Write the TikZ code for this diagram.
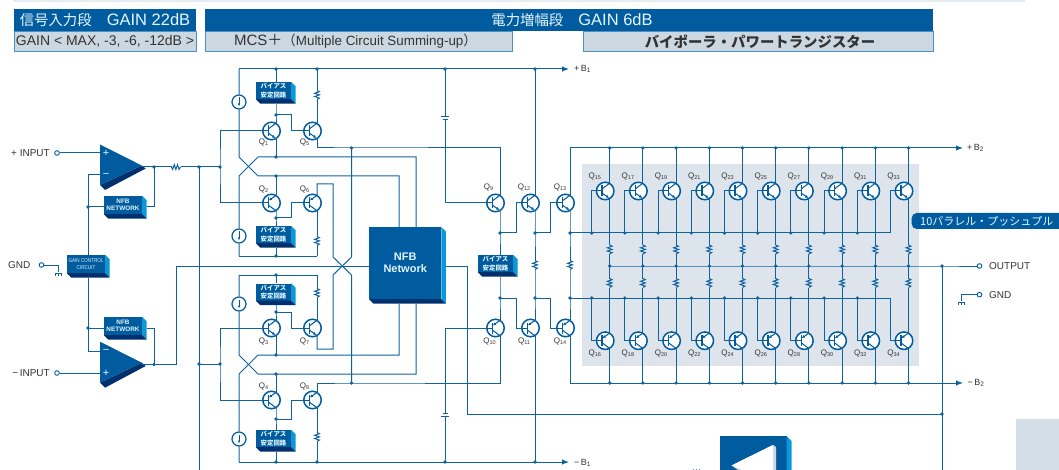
\documentclass[tikz,border=0pt]{standalone}
\usepackage{fontspec}
\setmainfont{Liberation Sans}
\newfontfamily\cjk{Noto Sans CJK JP}
\usetikzlibrary{calc,arrows.meta}
\definecolor{mainblue}{HTML}{005B9F}
\definecolor{wireblue}{HTML}{10629F}
\definecolor{sideblue}{HTML}{0B98D8}
\definecolor{footblue}{HTML}{00306E}
\definecolor{panelgray}{HTML}{DDE4EB}
\definecolor{headlight}{HTML}{CBD8E2}
\definecolor{headline}{HTML}{4E8FC4}
\definecolor{textgray}{HTML}{333333}
\newcommand{\sz}[1]{\fontsize{#1}{#1}\selectfont}
\newcommand{\qsub}[1]{\raisebox{-1.3pt}{\sz{5.5}#1}}
\newcommand{\rsub}[1]{\raisebox{-1pt}{\sz{6.5}#1}}
\newcommand{\biastext}{バイアス\\安定回路}
\tikzset{
    wire/.style={draw=wireblue,line width=1pt,line join=miter},
    rail/.style={wire,-{Latex[length=7pt,width=5.5pt]}},
    qbody/.style={circle,draw=mainblue,fill=white,line width=1.5pt,minimum size=17.5pt,inner sep=0pt},
    qleg/.style={draw=mainblue,line width=1pt},
    qtext/.style={text=textgray,font=\sz{8},inner sep=0pt},
    isrc/.style={circle,draw=mainblue,fill=white,line width=1.2pt,minimum size=14pt,inner sep=0pt},
    port/.style={circle,draw=mainblue,fill=white,line width=0.9pt,minimum size=4.6pt,inner sep=0pt},
    bevelbox/.style={fill=mainblue,text=white!88!cyan,inner sep=0pt,align=center},
    bfont/.style={font=\cjk\bfseries\fontsize{6.4}{8.5}\selectfont},
    nfont/.style={font=\bfseries\fontsize{6.4}{7.5}\selectfont},
    head/.style={fill=mainblue,anchor=north west,inner sep=0pt},
    sub/.style={fill=headlight,draw=headline,line width=1pt,anchor=north west,inner sep=0pt},
    labeltext/.style={text=textgray,font=\sz{10},inner sep=0pt},
    railtext/.style={text=textgray,font=\sz{9},inner sep=0pt,anchor=west},
}
% transistor: number, x, y, label offset
\newcommand{\qbase}[5]{%
    \node[qbody] (Q#1) at (#2,#3) {};
    \coordinate (Q#1b) at ($(Q#1)+(-9,0)$);
    \coordinate (Q#1u) at ($(Q#1)+(4.5,-7.8)$);
    \coordinate (Q#1d) at ($(Q#1)+(4.5,7.8)$);
    \draw[qleg] (Q#1b) -- ($(Q#1)+(-3,0)$);
    \draw[qleg,line width=1.5pt] ($(Q#1)+(-3,-5.5)$) -- ($(Q#1)+(-3,5.5)$);
    \node[qtext] (L#1) at ($(Q#1)+(#4,#5)$) {Q\qsub{#1}};
}
\newcommand{\qdn}[5]{% emitter below
    \qbase{#1}{#2}{#3}{#4}{#5}
    \draw[qleg] ($(Q#1)+(-3,-2.2)$) -- (Q#1u);
    \draw[qleg,-{Latex[length=3pt,width=3pt]}] ($(Q#1)+(-3,2.2)$) -- ($(Q#1)+(3.8,7)$);
}
\newcommand{\qup}[5]{% emitter above
    \qbase{#1}{#2}{#3}{#4}{#5}
    \draw[qleg] ($(Q#1)+(-3,2.2)$) -- (Q#1d);
    \draw[qleg,-{Latex[length=3pt,width=3pt]}] ($(Q#1)+(4.2,-7.4)$) -- ($(Q#1)+(-2.6,-2.6)$);
}
% box with side and foot faces
\newcommand{\bevel}[7]{%
    \node[bevelbox,#7,minimum width=#4pt,minimum height=#5pt] (#1) at (#2,#3) {#6};
    \fill[sideblue] (#1.north east) -- ++(4.5,4.5) -- ($(#1.south east)+(4.5,4.5)$) -- (#1.south east) -- cycle;
    \fill[footblue] (#1.south west) -- ++(4.5,4.5) -- ($(#1.south east)+(4.5,4.5)$) -- (#1.south east) -- cycle;
    \coordinate (#1f) at ($(#1.south)+(0,4.5)$);
    \coordinate (#1r) at ($(#1.east)+(4.5,0)$);
}
% resistors
\newcommand{\resv}[3]{%
    \coordinate (#1t) at (#2,#3-4.5);
    \coordinate (#1b) at (#2,#3+4.5);
    \draw[wire] (#1t) -- ++(2.4,1.2) -- ++(-4.8,1.6) -- ++(4.8,1.6) -- ++(-4.8,1.6) -- ++(4.8,1.6) -- (#1b);
}
\newcommand{\gndcomb}[2]{%
    \draw[wire,line width=0.8pt] (#1,#2) ++(-3.3,0) -- ++(6.6,0) (#1,#2) ++(-3.3,0) -- ++(0,3) (#1,#2) -- ++(0,3) (#1,#2) ++(3.3,0) -- ++(0,3);
}
\begin{document}
\begin{tikzpicture}[x=1pt,y=-1pt]
    \useasboundingbox (0,0) rectangle (1059,470);
    \fill[panelgray!70] (13,0) rectangle (1025,2.5);
    \fill[panelgray] (582,164) rectangle (919,366);
    \fill[headlight!85!white] (1015.7,419) rectangle (1059,470);

    % title bars
    \node[head,minimum width=182.5pt,minimum height=22pt] (headin) at (13.5,9) {};
    \node[sub,minimum width=182.5pt,minimum height=20pt] (subin) at (13.5,31) {};
    \node[head,minimum width=728pt,minimum height=22pt] (headpow) at (205,9) {};
    \node[sub,minimum width=307pt,minimum height=20pt] (submcs) at (205,31) {};
    \node[sub,minimum width=350pt,minimum height=20pt] (subbip) at (583,31) {};
    \node[text=white!90!cyan,inner sep=0pt] (tin) at (105,20.5) {{\cjk\sz{14.4}信号入力段}\hspace{15pt}{\sz{16.5}GAIN 22dB}};
    \node[text=textgray,inner sep=0pt] (tgain) at (105,41.5) {\sz{14}GAIN < MAX, -3, -6, -12dB >};
    \node[text=white!90!cyan,inner sep=0pt] (tpow) at (572,20.5) {{\cjk\sz{14.4}電力増幅段}\hspace{15pt}{\sz{16.5}GAIN 6dB}};
    \node[text=textgray,inner sep=0pt] (tmcs) at (355.5,41.5) {\sz{15}MCS{\cjk ＋}\sz{13.4}{\cjk （}Multiple Circuit Summing-up{\cjk ）}};
    \node[text=textgray,inner sep=0pt] (tbip) at (760,41.5) {\cjk\bfseries\sz{14.4}バイポーラ・パワートランジスター};

    % fixed points of the wiring
    \foreach \n/\x/\y in {tA/239/69,t1/276/69,t5/317/69,tC/445/69,tQ/535/69,tE/569/69,
        bA/239/462,b4/276/462,b8/317/462,bC/445/462,bQ/535/462,bE/569/462,
        n1/276/115,n2/276/218,n3/276/312,n4/276/419,
        xa/239/157,xb/258/176,xc/258/157,xd/239/176,xe/239/355,xf/258/374,xg/258/355,xh/239/374,
        u1/276/157,u2/276/176,u3/276/355,u4/276/374,
        la/239/256,lb/276/256,lc/317/256,ma/239/275,mb/276/275,mc/317/275,
        cp1/399/227,cp2/416/227,cp3/399/303.5,cp4/416/303.5,
        e5/351.5/148,e8/351.5/383,e6/333/184,f1/333/257,f2/351.5/257,f3/333/275,f4/351.5/275,e7/333/349,
        ba/220/167,bb/220/364,bc/199/167,bd/199/364,be/199/470,
        pi1/100/153,mi1/100/175,ga/88/175,gb/88/351,mi2/100/351,pi2/100/373,nj1/88/207,nj2/88/328,
        oa1/141/167,oj1/154/167,oa2/141/364.5,oj2/154/364.5,oh/176.5/364.5,oi/176.5/266,
        p9/500/233,p12/535/233,p13/570/233,p10/500/298,p11/535/298,p14/570/298,
        c1t/445/117,c1b/445/120,c2t/445/413,c2b/445/416,
        tR/570/148,tF/963/148,bR/570/383,bF/963/383,
        oT/609.7/266,oJ/942/266,oB/942/470,fb1/445.7/266,fb2/467/266,fb3/467/414,fb4/942/414,
        gl/58.5/265,gld/58.5/272,gr/961.5/294.7,grd/961.5/301}
        \coordinate (\n) at (\x,\y);

    % input transistors
    \qdn{1}{271.5}{131}{-8}{11}
    \qdn{5}{312.5}{131}{-8}{11}
    \qup{2}{271.5}{203}{-8}{-14}
    \qup{6}{312.5}{203}{-8}{-14}
    \qdn{3}{271.5}{328}{-8}{13}
    \qdn{7}{312.5}{328}{-8}{13}
    \qup{4}{271.5}{400}{-8}{-14}
    \qup{8}{312.5}{400}{-8}{-14}
    % drivers
    \qdn{9}{495.5}{203}{-7}{-16}
    \qdn{12}{530.5}{203}{-6.5}{-16}
    \qdn{13}{565.5}{203}{-5.5}{-16}
    \qup{10}{495.5}{328}{-6}{13.5}
    \qup{11}{530.5}{328}{-6.5}{13.5}
    \qup{14}{565.5}{328}{-5.5}{13.5}

    % boxes
    \bevel{bs1}{273.5}{90.5}{35}{17}{\biastext}{bfont}
    \bevel{bs2}{273.5}{234.5}{35}{17}{\biastext}{bfont}
    \bevel{bs3}{273.5}{292}{35}{17}{\biastext}{bfont}
    \bevel{bs4}{273.5}{438.5}{35}{17}{\biastext}{bfont}
    \bevel{bs5}{495.5}{263.5}{35}{17}{\biastext}{bfont}
    \bevel{nf1}{123}{205}{38}{18}{NFB\\NETWORK}{nfont}
    \bevel{nf2}{123}{326}{38}{18}{NFB\\NETWORK}{nfont}
    \bevel{gc}{86}{264}{38}{18}{GAIN CONTROL\\CIRCUIT}{font=\fontsize{5.6}{7.5}\selectfont\addfontfeature{FakeStretch=0.82}}
    \bevel{nfb}{405.2}{263}{71.7}{72}{NFB\\Network}{font=\bfseries\fontsize{11}{12.5}\selectfont}

    % op amps
    \fill[footblue] (100,185) -- (141.7,165.5) -- (145.7,168.5) -- (105,190) -- cycle;
    \fill[mainblue] (100,144.5) -- (141.7,165.5) -- (100,185) -- cycle;
    \fill[footblue] (100,382.7) -- (141.7,362.7) -- (145.7,366) -- (105,387.7) -- cycle;
    \fill[mainblue] (100,341.7) -- (141.7,362.7) -- (100,382.7) -- cycle;
    \node[text=white!90!cyan,inner sep=0pt,font=\sz{11}] (sp1) at (106,153) {+};
    \node[text=white!90!cyan,inner sep=0pt,font=\sz{11}] (sm1) at (106,175) {−};
    \node[text=white!90!cyan,inner sep=0pt,font=\sz{11}] (sm2) at (106,351) {−};
    \node[text=white!90!cyan,inner sep=0pt,font=\sz{11}] (sp2) at (106,373) {+};

    % current sources
    \foreach \n/\y in {cs1/102,cs2/236,cs3/304,cs4/439}{
        \node[isrc] (\n) at (239,\y) {};
        \draw[qleg,-{Latex[length=3pt,width=2.5pt]}] ($(\n)+(0,-4.5)$) -- ($(\n)+(0,4.5)$);
    }
    % ports
    \node[port] (pin) at (57,153) {};
    \node[port] (min) at (57,373) {};
    \node[port] (gin) at (41.5,265) {};
    \node[port] (pout) at (979.5,266) {};
    \node[port] (gout) at (979.5,294.7) {};

    % resistors
    \resv{r5}{317}{95}
    \resv{r6}{317}{241}
    \resv{r7}{317}{293}
    \resv{r8}{317}{437}
    \resv{r12}{535}{265}
    \resv{r13}{570}{265}
    \coordinate (rnl) at (171.5,167);
    \coordinate (rnr) at (180.5,167);
    \draw[wire] (rnl) -- ++(1.2,2.4) -- ++(1.6,-4.8) -- ++(1.6,4.8) -- ++(1.6,-4.8) -- ++(1.6,4.8) -- (rnr);

    % input stage wiring
    \draw[wire] (pin) -- (pi1);
    \draw[wire] (min) -- (pi2);
    \draw[wire] (mi1) -- (ga) -- (ga |- gc.north);
    \draw[wire] (ga |- gcf) -- (gb) -- (mi2);
    \draw[wire] (nj1) -- (nj1 -| nf1.west);
    \draw[wire] (nj2) -- (nj2 -| nf2.west);
    \draw[wire] (nj1 -| nf1r) -| (oj1);
    \draw[wire] (nj2 -| nf2r) -| (oj2);
    \draw[wire] (oa1) -- (rnl);
    \draw[wire] (rnr) -- (ba);
    \draw[wire] (oa2) -- (oh) -- (oi) -- (nfb.west |- oi);
    \draw[wire] (bc) -- (be);
    \draw[wire] (bd) -- (bb);
    \draw[wire] (Q1b) -| (ba) |- (Q2b);
    \draw[wire] (Q3b) -| (bb) |- (Q4b);

    % rails
    \draw[rail] (tA) -- (tE);
    \draw[rail] (bA) -- (bE);
    \draw[rail] (tR) -- (tF);
    \draw[rail] (bR) -- (bF);
    \draw[wire] (la) -- (lc);
    \draw[wire] (ma) -- (mc);

    % current sources and the crossings beside them
    \draw[wire] (tA) -- (cs1) (cs1) -- (xa) -- (xb) -| (cp1);
    \draw[wire] (la) -- (cs2) (cs2) -- (xd) -- (xc) -| (cp2);
    \draw[wire] (ma) -- (cs3) (cs3) -- (xe) -- (xf) -| (cp4);
    \draw[wire] (bA) -- (cs4) (cs4) -- (xh) -- (xg) -| (cp3);

    % first pairs
    \draw[wire] (t1) -- (t1 |- bs1.north) (t1 |- bs1f) -- (n1) -- (Q1u);
    \draw[wire] (Q1d) -- (u1);
    \draw[wire] (u2) -- (Q2u);
    \draw[wire] (Q2d) -- (n2) -- (n2 |- bs2.north);
    \draw[wire] (n2 |- bs2f) -- (lb);
    \draw[wire] (mb) -- (mb |- bs3.north) (mb |- bs3f) -- (n3) -- (Q3u);
    \draw[wire] (Q3d) -- (u3);
    \draw[wire] (u4) -- (Q4u);
    \draw[wire] (Q4d) -- (n4) -- (n4 |- bs4.north);
    \draw[wire] (n4 |- bs4f) -- (b4);
    \draw[wire] (n1) -- ++(15,0) |- (Q5b);
    \draw[wire] (n2) -- ++(15,0) |- (Q6b);
    \draw[wire] (n3) -- ++(15,0) |- (Q7b);
    \draw[wire] (n4) -- ++(15,0) |- (Q8b);
    % second pairs
    \draw[wire] (t5) -- (r5t) (r5b) -- (Q5u);
    \draw[wire] (lc) -- (r6b) (r6t) -- (Q6d);
    \draw[wire] (mc) -- (r7t) (r7b) -- (Q7u);
    \draw[wire] (b8) -- (r8b) (r8t) -- (Q8d);
    \draw[wire] (Q5d) |- (e5) -| (Q9u);
    \draw[wire] (Q8u) |- (e8) -| (Q10d);
    \draw[wire] (Q6u) |- (e6) -- (f1) -- (f4) -- (e8);
    \draw[wire] (e5) -- (f2) -- (f3) -- (e7) -| (Q7d);

    % drivers wiring
    \draw[wire] (tC) -- (c1t) (c1b) |- (Q9b);
    \draw[wire] (Q10b) -| (c2t) (c2b) -- (bC);
    \draw[wire] ($(c1t)+(-4,0)$) -- ($(c1t)+(4,0)$) ($(c1b)+(-2.5,0)$) -- ($(c1b)+(2.5,0)$);
    \draw[wire] ($(c2t)+(-2.5,0)$) -- ($(c2t)+(2.5,0)$) ($(c2b)+(-4,0)$) -- ($(c2b)+(4,0)$);
    \draw[wire] (Q9d) -- (p9) -- (p9 |- bs5.north);
    \draw[wire] (p9 |- bs5f) -- (p10) -- (Q10u);
    \draw[wire] (p9) -- ++(16,0) |- (Q12b);
    \draw[wire] (p10) -- ++(16,0) |- (Q11b);
    \draw[wire] (tQ) -- (Q12u) (Q12d) -- (p12) -- (r12t) (r12b) -- (p11) -- (Q11u) (Q11d) -- (bQ);
    \draw[wire] (p12) -- ++(15.5,0) |- (Q13b);
    \draw[wire] (p11) -- ++(15.5,0) |- (Q14b);
    \draw[wire] (tR) -- (Q13u) (Q13d) -- (p13) -- (r13t) (r13b) -- (p14) -- (Q14u) (Q14d) -- (bR);

    % output and feedback
    \draw[wire] (oT) -- (oJ) -- (pout);
    \draw[wire] (oJ) -- (oB);
    \draw[wire] (fb1) -- (fb2) -- (fb3) -- (fb4);
    \draw[wire] (gin) -- (gl) -- (gld);
    \draw[wire] (gout) -- (gr) -- (grd);
    \gndcomb{58.5}{273}
    \gndcomb{961.5}{302}

    % ten parallel pairs
    \foreach \k [evaluate=\k as \cx using 605.2+33.2*\k, evaluate=\k as \wx using \cx+4.5, evaluate=\k as \sx using \cx-13.5,
        evaluate=\k as \nt using int(15+2*\k), evaluate=\k as \nb using int(16+2*\k)] in {0,...,9}{
        \qdn{\nt}{\cx}{191}{-10.5}{-15}
        \qup{\nb}{\cx}{340.7}{-10.5}{12.5}
        \coordinate (gt\k) at (\sx,233);
        \coordinate (gb\k) at (\sx,298);
        \coordinate (ct\k) at (\wx,148);
        \coordinate (cb\k) at (\wx,383);
        \coordinate (cm\k) at (\wx,266);
        \resv{ru\k}{\wx}{249.5}
        \resv{rd\k}{\wx}{283}
        \draw[wire] (ct\k) -- (Q\nt u) (Q\nt d) -- (ru\k t) (ru\k b) -- (cm\k) -- (rd\k t) (rd\k b) -- (Q\nb u) (Q\nb d) -- (cb\k);
        \draw[wire] (gt\k) |- (Q\nt b);
        \draw[wire] (gb\k) |- (Q\nb b);
        \foreach \d in {ct\k,cb\k,cm\k}
            \fill[wireblue] (\d) circle (1.8pt);
    }
    \draw[wire] (p13) -- (gt9);
    \draw[wire] (p14) -- (gb9);
    \foreach \k in {0,...,8}{
        \fill[wireblue] (gt\k) circle (1.8pt);
        \fill[wireblue] (gb\k) circle (1.8pt);
    }

    % junction dots
    \foreach \d in {t1,t5,tC,tQ,b4,b8,bC,bQ,n1,n2,n3,n4,u1,u2,u3,u4,lb,mb,e5,e8,ba,bb,bc,bd,nj1,nj2,oj1,oj2,p9,p12,p13,p10,p11,p14,oJ,fb4}
        \fill[wireblue] (\d) circle (1.8pt);

    % labels
    \node[labeltext,anchor=east] (lpin) at (50,153) {+ INPUT};
    \node[labeltext,anchor=east] (lmin) at (50,373) {−\,INPUT};
    \node[labeltext,anchor=west] (lgin) at (8,265) {GND};
    \node[labeltext,anchor=west] (lout) at (989,266) {OUTPUT};
    \node[labeltext,anchor=west] (lgnd) at (989,294.7) {GND};
    \node[railtext] (lb1p) at (574,69) {+\,B\rsub{1}};
    \node[railtext] (lb1m) at (574,462.5) {−\,B\rsub{1}};
    \node[railtext] (lb2p) at (967,148) {+\,B\rsub{2}};
    \node[railtext] (lb2m) at (967.5,383) {−\,B\rsub{2}};
    \fill[mainblue,rounded corners=5pt] (911.7,213) rectangle (1075,229);
    \node[text=white!90!cyan,inner sep=0pt,anchor=west] (lpar) at (920,221) {\cjk\sz{11}10パラレル・プッシュプル};

    % cut off at the lower edge
    \fill[mainblue] (720,436) rectangle (786.7,470);
    \fill[sideblue] (786.7,436) -- (791.7,441) -- (791.7,470) -- (786.7,470) -- cycle;
    \fill[headlight] (731.5,465.5) -- (773,445) -- (776,447) -- (776,470) -- (738,470) -- cycle;
    \fill[white] (731.5,465.5) -- (773,445) -- (773,470) -- (742,470) -- cycle;
    \draw[headline,dotted,line width=0.8pt] (693,469.5) -- (700,469.5);
\end{tikzpicture}
\end{document}
